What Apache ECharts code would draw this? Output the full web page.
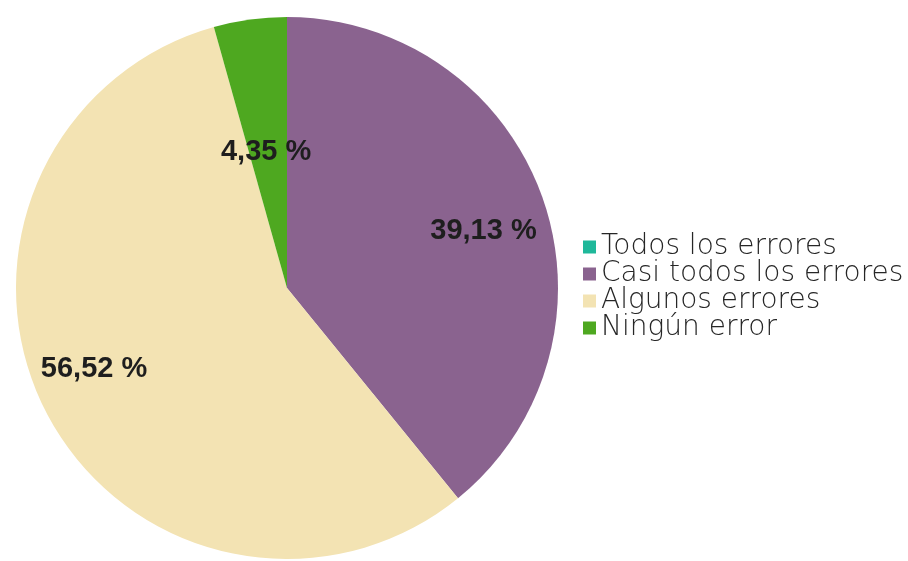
<!DOCTYPE html>
<html>
<head>
<meta charset="utf-8">
<script src="https://cdn.jsdelivr.net/npm/echarts@6/dist/echarts.min.js"></script>
<style>
  html, body { margin: 0; padding: 0; background: #ffffff; }
  #chart { width: 908px; height: 561px; }
</style>
</head>
<body>
<div id="chart"></div>
<script>
// Share of answers per category (percent)
const categories = ['Todos los errores', 'Casi todos los errores', 'Algunos errores', 'Ningún error'];
const shares = [0, 39.13, 56.52, 4.35];
const sliceColors = ['#1fb89a', '#8a638f', '#f3e3b3', '#4ea820'];
// Nudges applied to each label from its default inside position
const labelNudge = [[0, 0], [66, -11], [-70, 17], [-2, 1]];

const fmt = v => v.toFixed(2).replace('.', ',') + ' %';

const chart = echarts.init(document.getElementById('chart'), null, { renderer: 'canvas' });
chart.setOption({
  animation: false,
  color: sliceColors,
  legend: {
    orient: 'vertical',
    left: 578,
    top: 228,
    itemWidth: 13,
    itemHeight: 13,
    itemGap: -1,
    icon: 'rect',
    data: categories,
    textStyle: {
      fontFamily: 'DejaVu Sans, sans-serif',
      fontWeight: 200,
      fontSize: 28,
      color: '#262626'
    }
  },
  series: [{
    type: 'pie',
    center: [287, 288],
    radius: 271,
    startAngle: 90,
    clockwise: true,
    avoidLabelOverlap: false,
    label: {
      show: true,
      position: 'inside',
      fontFamily: 'Liberation Sans, Arial, sans-serif',
      fontWeight: 'bold',
      fontSize: 29,
      color: '#1e1e1e',
      formatter: p => (p.value > 0 ? fmt(p.value) : '')
    },
    labelLayout: p => ({ dx: labelNudge[p.dataIndex][0], dy: labelNudge[p.dataIndex][1] }),
    labelLine: { show: false },
    emphasis: { disabled: true },
    data: categories.map((name, i) => ({ name, value: shares[i] }))
  }]
});
</script>
</body>
</html>
